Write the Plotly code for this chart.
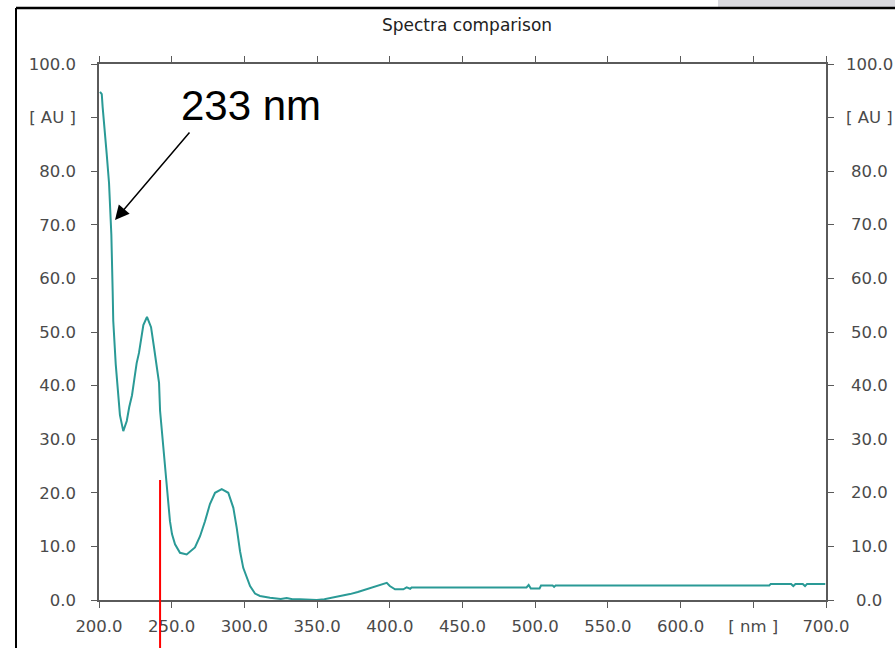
import plotly.graph_objects as go

# Absorbance spectrum (wavelength in nm, absorbance in AU)
wavelength_nm = [
    200.7, 201.9, 202.5, 204.1, 205.3, 206.9, 208.5, 209.4, 209.8, 211.5,
    213.3, 214.4, 216.7, 219.1, 220.8, 222.7, 224.3, 225.9, 227.5, 228.9,
    230.5, 233.0, 235.8, 237.8, 239.7, 241.3, 242.0, 243.5, 244.7, 246.1,
    247.0, 248.8, 250.2, 252.3, 255.7, 260.3, 266.0, 269.5, 272.9, 276.3,
    279.8, 284.4, 288.9, 292.4, 294.7, 297.0, 299.2, 301.6, 303.9, 307.3,
    310.7, 317.6, 322.0, 325.0, 329.1, 333.0, 338.2, 343.0, 349.7, 355.0,
    361.1, 366.0, 372.6, 378.0, 384.0, 389.0, 393.0, 397.9, 400.0, 403.6,
    409.3, 411.6, 414.0, 415.0, 441.0, 470.0, 494.0, 495.5, 497.0, 503.0,
    504.0, 512.0, 513.0, 514.0, 661.0, 662.0, 676.0, 677.5, 679.0, 684.0,
    685.6, 687.0, 699.5,
]
absorbance_au = [
    94.8, 94.4, 92.0, 87.5, 83.2, 77.8, 68.1, 57.6, 52.1, 44.0,
    37.5, 34.5, 31.5, 33.4, 36.0, 38.2, 41.2, 44.2, 46.1, 48.7,
    51.3, 52.8, 50.9, 47.2, 43.5, 40.5, 35.3, 30.6, 27.4, 23.7,
    20.0, 14.7, 12.3, 10.4, 8.8, 8.5, 9.8, 11.9, 14.7, 17.9,
    20.0, 20.7, 20.0, 17.2, 13.5, 9.1, 6.0, 4.2, 2.6, 1.2,
    0.75, 0.43, 0.35, 0.2, 0.35, 0.15, 0.13, 0.05, 0.0, 0.15,
    0.45, 0.75, 1.1, 1.5, 2.0, 2.4, 2.8, 3.2, 2.6, 2.0,
    2.0, 2.35, 2.1, 2.35, 2.35, 2.35, 2.35, 2.8, 2.15, 2.15,
    2.7, 2.7, 2.45, 2.7, 2.7, 3.0, 3.0, 2.6, 3.0, 3.0,
    2.6, 3.0, 3.0,
]

# Axis ticks
x_tickvals = [200, 250, 300, 350, 400, 450, 500, 550, 600, 650, 700]
x_ticktext = ["200.0", "250.0", "300.0", "350.0", "400.0", "450.0",
              "500.0", "550.0", "600.0", "[ nm ]", "700.0"]
y_tickvals = [0, 10, 20, 30, 40, 50, 60, 70, 80, 90, 100]
y_ticktext = ["0.0", "10.0", "20.0", "30.0", "40.0", "50.0",
              "60.0", "70.0", "80.0", "[ AU ]", "100.0"]

# Annotated peak and marker line
peak_label = "233 nm"
arrow_head = (211.0, 70.9)
arrow_tail = (263.1, 87.5)
label_pos = (304.5, 92.2)
marker_nm = 242.0

W, H = 895, 648
M_L, M_R, M_T, M_B = 99, 69, 64, 48
PW, PH = W - M_L - M_R, H - M_T - M_B


def px_x(px):
    return (px - M_L) / PW


def px_y(py):
    return (H - M_B - py) / PH


AX = "#5a5a5a"
LINE = "#2a9a96"
tick_font = dict(family="DejaVu Sans", size=16.5, color="#4a4a4a")

fig = go.Figure()
fig.add_trace(go.Scatter(
    x=wavelength_nm, y=absorbance_au, mode="lines",
    line=dict(color=LINE, width=2), showlegend=False, hoverinfo="skip",
))
# companion trace so the right-hand axis is drawn
fig.add_trace(go.Scatter(
    x=wavelength_nm, y=absorbance_au, mode="lines", yaxis="y2",
    line=dict(color=LINE, width=0), opacity=0, showlegend=False,
    hoverinfo="skip",
))

axis_common = dict(
    showline=True, linecolor=AX, linewidth=1.6,
    ticks="outside", tickcolor=AX, tickwidth=1.4, ticklen=6,
    showgrid=False, zeroline=False, tickfont=tick_font, automargin=False,
)

fig.update_layout(
    width=W, height=H,
    margin=dict(l=M_L, r=M_R, t=M_T, b=M_B, autoexpand=False),
    paper_bgcolor="white", plot_bgcolor="white",
    title=dict(text="Spectra comparison", x=467 / W, xanchor="center",
               y=1 - 25 / H, yanchor="middle", automargin=False,
               font=dict(family="DejaVu Sans", size=17, color="#222222")),
    xaxis=dict(range=[200, 700], tickvals=x_tickvals, ticktext=x_ticktext,
               mirror="ticks", ticklabelstandoff=4, **axis_common),
    yaxis=dict(range=[0, 100], tickvals=y_tickvals, ticktext=y_ticktext,
               mirror=False, ticklabelstandoff=12, **axis_common),
    yaxis2=dict(range=[0, 100], tickvals=y_tickvals, overlaying="y",
                side="right", showticklabels=False, **axis_common),
)

# right-hand tick labels, centred in their column
for v, t in zip(y_tickvals, y_ticktext):
    fig.add_annotation(x=px_x(869), y=v, xref="paper", yref="y", text=t,
                       showarrow=False, xanchor="center", yanchor="middle",
                       font=tick_font)

# peak label and arrow
fig.add_annotation(
    x=label_pos[0], y=label_pos[1], xref="x", yref="y", text=peak_label,
    showarrow=False, font=dict(family="Liberation Sans", size=42, color="black"),
    xanchor="center", yanchor="middle",
)
fig.add_annotation(
    x=arrow_head[0], y=arrow_head[1], xref="x", yref="y",
    ax=arrow_tail[0], ay=arrow_tail[1], axref="x", ayref="y",
    text="", showarrow=True, arrowhead=2, arrowsize=1.9, arrowwidth=1.5,
    arrowcolor="black",
)

# red marker line running below the axis
fig.add_shape(type="line", xref="x", yref="paper",
              x0=marker_nm, x1=marker_nm, y0=px_y(480), y1=px_y(H),
              line=dict(color="#ff0000", width=2))

# window frame around the chart
fig.add_shape(type="rect", xref="paper", yref="paper",
              x0=px_x(718), x1=px_x(W), y0=px_y(7), y1=px_y(0),
              line=dict(width=0), fillcolor="#d9d9de", layer="below")
fig.add_shape(type="line", xref="paper", yref="paper",
              x0=px_x(16), x1=px_x(16), y0=px_y(8), y1=px_y(H),
              line=dict(color="black", width=2))
fig.add_shape(type="line", xref="paper", yref="paper",
              x0=px_x(16), x1=px_x(W), y0=px_y(8), y1=px_y(8),
              line=dict(color="black", width=2.5))

fig.write_html("out.html")
